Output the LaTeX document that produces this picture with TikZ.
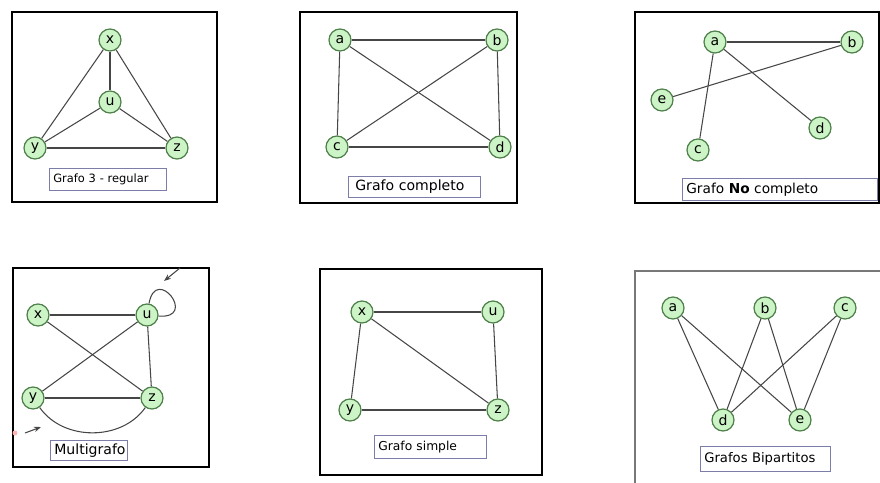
\documentclass[tikz,border=0pt]{standalone}
\usepackage{fontspec}
\setmainfont{DejaVu Sans}
\usepackage{xcolor}
\usepackage{tikz}
\usetikzlibrary{arrows.meta, positioning}
\definecolor{verdenodo}{RGB}{205, 244, 198}
\definecolor{verdeborde}{RGB}{78, 128, 74}
\definecolor{gris}{RGB}{70, 70, 70}
\definecolor{lila}{RGB}{125, 125, 170}
\definecolor{grismarco}{RGB}{120, 120, 120}

\tikzset{
  vertice/.style={circle, draw=verdeborde, fill=verdenodo, line width=0.7pt,
    minimum size=0.44cm, inner sep=0pt, font=\fontsize{8}{8}\selectfont},
  arista/.style={draw=gris, line width=0.6pt},
  etiqueta/.style={draw=lila, fill=white, anchor=north west, align=left,
    inner xsep=0.08cm, inner ysep=0pt},
  marco/.style={draw=black, line width=1.1pt},
  flecha/.style={draw=gris, line width=0.6pt, -{Stealth[length=4pt,width=3pt]}}
}

\begin{document}
\begin{tikzpicture}[x=0.02cm, y=-0.02cm]
    \useasboundingbox (0,0) rectangle (880,483);
    \clip (0,0) rectangle (880,483);

    % Frames
    \draw[marco] (12,12) rectangle (217,202);
    \draw[marco] (300,12) rectangle (517,203);
    \draw[marco] (635,12) rectangle (879,203);
    \draw[marco] (13,268) rectangle (209,467);
    \draw[marco] (320,269) rectangle (542,475);
    \draw[draw=grismarco, line width=1.1pt] (635,271) rectangle (890,495);

    % Grafo 3 - regular
    \node[vertice] (g1x) at (110,40) {x};
    \node[vertice] (g1u) at (110,102) {u};
    \node[vertice] (g1y) at (35,148) {y};
    \node[vertice] (g1z) at (177,148) {z};
    \foreach \i/\j in {g1x/g1u, g1x/g1y, g1x/g1z, g1u/g1y, g1u/g1z, g1y/g1z}
        \draw[arista] (\i) -- (\j);
    \node[etiqueta, text width=2.18cm, minimum height=0.44cm,
          font=\fontsize{6.5}{8}\selectfont] (l1) at (49,168) {Grafo 3 - regular};

    % Grafo completo
    \node[vertice] (g2a) at (340,40) {a};
    \node[vertice] (g2b) at (497,40) {b};
    \node[vertice] (g2c) at (337,147) {c};
    \node[vertice] (g2d) at (500,147) {d};
    \foreach \i/\j in {g2a/g2b, g2a/g2c, g2a/g2d, g2b/g2c, g2b/g2d, g2c/g2d}
        \draw[arista] (\i) -- (\j);
    \node[etiqueta, text width=2.36cm, minimum height=0.42cm, inner xsep=0.14cm,
          font=\fontsize{8}{9}\selectfont] (l2) at (348,176) {Grafo completo};

    % Grafo No completo
    \node[vertice] (g3a) at (715,42) {a};
    \node[vertice] (g3b) at (852,42) {b};
    \node[vertice] (g3e) at (662,100) {e};
    \node[vertice] (g3d) at (820,128) {d};
    \node[vertice] (g3c) at (698,150) {c};
    \foreach \i/\j in {g3a/g3b, g3a/g3c, g3a/g3d, g3e/g3b}
        \draw[arista] (\i) -- (\j);
    \node[etiqueta, text width=3.74cm, minimum height=0.44cm,
          font=\fontsize{7.8}{9}\selectfont] (l3) at (682,178) {Grafo \textbf{No} completo};

    % Multigrafo
    \node[vertice] (g4x) at (38,315) {x};
    \node[vertice] (g4u) at (147,315) {u};
    \node[vertice] (g4y) at (33,398) {y};
    \node[vertice] (g4z) at (152,398) {z};
    \foreach \i/\j in {g4x/g4u, g4x/g4z, g4u/g4y, g4u/g4z, g4y/g4z}
        \draw[arista] (\i) -- (\j);
    \draw[arista] (g4y) to[out=-55, in=-125] (g4z);
    \draw[arista] (g4u) to[loop, out=80, in=-5, min distance=0.8cm] (g4u);
    \coordinate (f1a) at (180,268);
    \coordinate (f1b) at (164,281);
    \coordinate (f2a) at (25,433);
    \coordinate (f2b) at (41,427);
    \draw[flecha] (f1a) -- (f1b);
    \draw[flecha] (f2a) -- (f2b);
    \fill[red!30] (15,433) circle (0.05cm);
    \node[etiqueta, text width=1.38cm, minimum height=0.40cm,
          font=\fontsize{8}{9}\selectfont] (l4) at (50,440) {Multigrafo};

    % Grafo simple
    \node[vertice] (g5x) at (362,312) {x};
    \node[vertice] (g5u) at (493,312) {u};
    \node[vertice] (g5y) at (350,410) {y};
    \node[vertice] (g5z) at (498,410) {z};
    \foreach \i/\j in {g5x/g5u, g5x/g5y, g5x/g5z, g5u/g5z, g5y/g5z}
        \draw[arista] (\i) -- (\j);
    \node[etiqueta, text width=2.08cm, minimum height=0.46cm,
          font=\fontsize{7}{8}\selectfont] (l5) at (374,435) {Grafo simple};

    % Grafos Bipartitos
    \node[vertice] (g6a) at (673,308) {a};
    \node[vertice] (g6b) at (765,308) {b};
    \node[vertice] (g6c) at (845,308) {c};
    \node[vertice] (g6d) at (723,420) {d};
    \node[vertice] (g6e) at (800,420) {e};
    \foreach \i in {a,b,c} {
        \draw[arista] (g6\i) -- (g6d);
        \draw[arista] (g6\i) -- (g6e);
    }
    \node[etiqueta, text width=2.44cm, minimum height=0.50cm,
          font=\fontsize{7.5}{9}\selectfont] (l6) at (700,446) {Grafos Bipartitos};
\end{tikzpicture}
\end{document}
